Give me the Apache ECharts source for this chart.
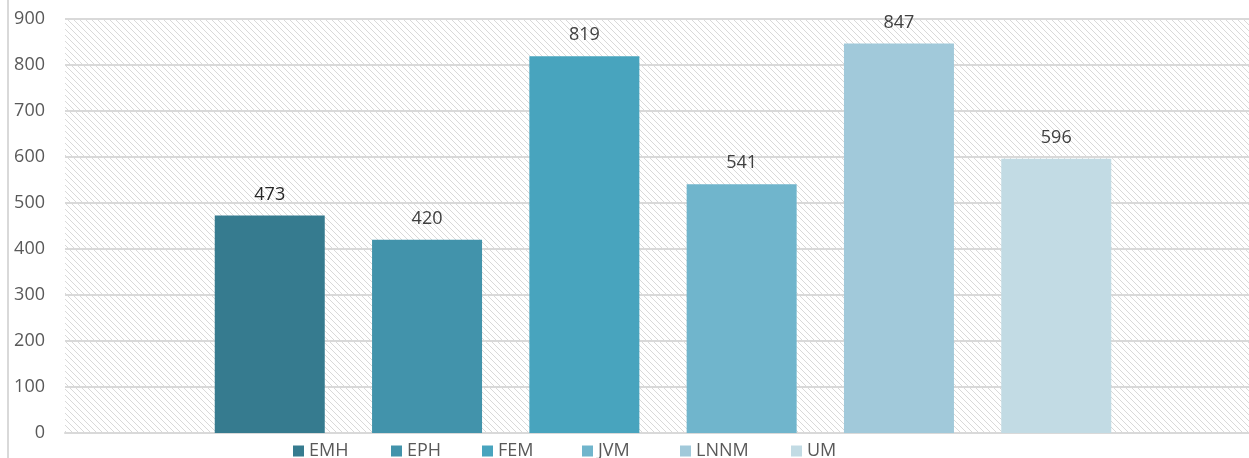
<!DOCTYPE html>
<html>
<head>
<meta charset="utf-8">
<script src="https://cdn.jsdelivr.net/npm/echarts@6/dist/echarts.min.js"></script>
<style>html,body{margin:0;padding:0;background:#fff;}#c{width:1249px;height:458px;}</style>
</head>
<body>
<div id="c"></div>
<script>
const categories = [''];
const seriesNames = ['EMH', 'EPH', 'FEM', 'JVM', 'LNNM', 'UM'];
const seriesValues = [473, 420, 819, 541, 847, 596];
const seriesColors = ['#367b8f', '#4293ab', '#48a4be', '#70b5cc', '#a1c9da', '#c2dbe4'];
const yTicks = [0, 100, 200, 300, 400, 500, 600, 700, 800, 900];
const legendLefts = [288, 386, 477, 577, 675, 786];

// hatched pattern tile (downward diagonal)
const P = 6;
const tile = document.createElement('canvas');
tile.width = P; tile.height = P;
const tc = tile.getContext('2d');
tc.fillStyle = '#ffffff';
tc.fillRect(0, 0, P, P);
tc.fillStyle = '#d9d9d9';
for (let i = 0; i < P; i++) tc.fillRect(i, i, 1, 1);

const FONT = '"Open Sans", sans-serif';
const chart = echarts.init(document.getElementById('c'), null, {renderer: 'canvas'});
chart.setOption({
  animation: false,
  backgroundColor: '#ffffff',
  textStyle: {fontFamily: FONT},
  grid: [
    {left: 65, right: 0, top: 19, bottom: 25, show: true, borderWidth: 0,
      backgroundColor: {image: tile, repeat: 'repeat'}},
    {left: 77, right: 0, top: 19, bottom: 25}
  ],
  graphic: [{
    type: 'line', shape: {x1: 8, y1: 0, x2: 8, y2: 458},
    style: {stroke: '#d9d9d9', lineWidth: 2}, z: 10
  }],
  legend: seriesNames.map((n, i) => ({
    left: legendLefts[i], top: 437, itemWidth: 11, itemHeight: 11, itemGap: 0,
    icon: 'rect',
    textStyle: {fontFamily: FONT, fontSize: 18, color: '#595959', padding: [0, 0, 0, 0]},
    data: [n]
  })),
  xAxis: [
    {type: 'category', data: categories, gridIndex: 0,
      axisLine: {show: true, lineStyle: {color: '#d9d9d9', width: 2}},
      axisTick: {show: false}, axisLabel: {show: false}},
    {type: 'category', data: categories, gridIndex: 1,
      axisLine: {show: false}, axisTick: {show: false}, axisLabel: {show: false}}
  ],
  yAxis: [
    {type: 'value', gridIndex: 0, min: yTicks[0], max: yTicks[yTicks.length - 1], interval: 100,
      axisLine: {show: false}, axisTick: {show: false},
      axisLabel: {fontFamily: FONT, fontSize: 18, color: '#595959', margin: 20},
      splitLine: {lineStyle: {color: '#d9d9d9', width: 2}}},
    {type: 'value', gridIndex: 1, min: yTicks[0], max: yTicks[yTicks.length - 1], interval: 100,
      axisLine: {show: false}, axisTick: {show: false}, axisLabel: {show: false},
      splitLine: {show: false}}
  ],
  series: seriesNames.map((n, i) => ({
    name: n, type: 'bar', xAxisIndex: 1, yAxisIndex: 1, data: [seriesValues[i]],
    barWidth: 110, barGap: '43%',
    itemStyle: {color: seriesColors[i]},
    label: {show: true, position: 'top', distance: 12, fontFamily: FONT, fontSize: 18,
      color: i === 0 ? '#262626' : '#404040'}
  }))
});
</script>
</body>
</html>
